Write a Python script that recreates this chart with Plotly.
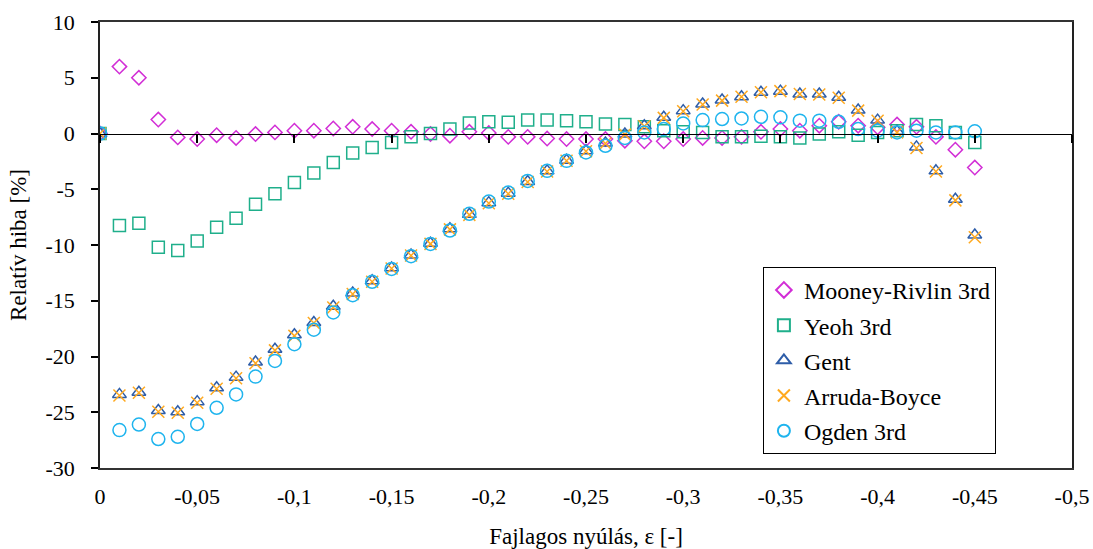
import plotly.graph_objects as go

strain = [0, -0.01, -0.02, -0.03, -0.04, -0.05, -0.06, -0.07, -0.08, -0.09,
          -0.10, -0.11, -0.12, -0.13, -0.14, -0.15, -0.16, -0.17, -0.18, -0.19,
          -0.20, -0.21, -0.22, -0.23, -0.24, -0.25, -0.26, -0.27, -0.28, -0.29,
          -0.30, -0.31, -0.32, -0.33, -0.34, -0.35, -0.36, -0.37, -0.38, -0.39,
          -0.40, -0.41, -0.42, -0.43, -0.44, -0.45]

mooney_rivlin = [0, 6.0, 5.0, 1.25, -0.35, -0.5, -0.15, -0.4, -0.05, 0.1,
                 0.25, 0.25, 0.45, 0.6, 0.4, 0.25, 0.15, -0.05, -0.2, 0.15,
                 0.05, -0.3, -0.3, -0.45, -0.5, -0.5, -0.5, -0.65, -0.7, -0.7,
                 -0.5, -0.4, -0.4, -0.3, 0.15, 0.4, 0.25, 0.7, 1.05, 0.7,
                 0.55, 0.8, 0.6, -0.3, -1.45, -3.05]

yeoh = [0, -8.25, -8.05, -10.2, -10.5, -9.65, -8.4, -7.6, -6.35, -5.4,
        -4.4, -3.55, -2.6, -1.75, -1.25, -0.8, -0.3, 0.0, 0.4, 0.95,
        1.05, 1.0, 1.2, 1.2, 1.15, 1.05, 0.85, 0.8, 0.6, 0.25,
        0.15, 0.1, -0.3, -0.3, -0.25, -0.3, -0.4, -0.05, 0.15, -0.15,
        0.1, 0.25, 0.8, 0.7, 0.1, -0.8]

gent = [0, -23.4, -23.2, -24.85, -24.95, -24.05, -22.8, -21.85, -20.5, -19.35,
        -18.05, -16.95, -15.5, -14.3, -13.2, -12.05, -10.9, -9.85, -8.55, -7.25,
        -6.2, -5.35, -4.3, -3.35, -2.4, -1.55, -0.85, -0.05, 0.7, 1.45,
        2.05, 2.65, 3.0, 3.3, 3.7, 3.8, 3.55, 3.55, 3.25, 2.1,
        1.2, 0.2, -1.2, -3.35, -5.9, -9.1]

arruda_boyce = [0, -23.5, -23.25, -24.95, -25.05, -24.15, -22.9, -21.95, -20.6, -19.45,
                -18.15, -17.0, -15.6, -14.4, -13.3, -12.1, -10.95, -9.9, -8.6, -7.3,
                -6.25, -5.4, -4.35, -3.4, -2.45, -1.6, -0.9, -0.1, 0.65, 1.4,
                2.0, 2.6, 2.95, 3.3, 3.7, 3.8, 3.55, 3.5, 3.2, 2.05,
                1.15, 0.1, -1.3, -3.4, -6.0, -9.3]

ogden = [0, -26.6, -26.1, -27.4, -27.2, -26.05, -24.6, -23.4, -21.8, -20.4,
         -18.9, -17.6, -16.05, -14.5, -13.3, -12.15, -11.0, -9.9, -8.7, -7.2,
         -6.1, -5.3, -4.25, -3.35, -2.45, -1.7, -1.1, -0.4, 0.1, 0.4,
         0.9, 1.2, 1.3, 1.35, 1.5, 1.45, 1.15, 1.15, 1.05, 0.4,
         0.25, 0.1, 0.25, 0.1, 0.1, 0.2]

x_tickvals = [0, -0.05, -0.1, -0.15, -0.2, -0.25, -0.3, -0.35, -0.4, -0.45, -0.5]
x_ticktext = ["0", "-0,05", "-0,1", "-0,15", "-0,2", "-0,25", "-0,3", "-0,35", "-0,4", "-0,45", "-0,5"]
y_tickvals = [10, 5, 0, -5, -10, -15, -20, -25, -30]
y_ticktext = ["10", "5", "0", "-5", "-10", "-15", "-20", "-25", "-30"]

series = [
    ("Mooney-Rivlin 3rd", mooney_rivlin, "diamond-open", "#D22ED6", 11),
    ("Yeoh 3rd", yeoh, "square-open", "#1FAF8B", 12),
    ("Gent", gent, "triangle-up-open", "#2E5DA8", 12),
    ("Arruda-Boyce", arruda_boyce, "x-thin-open", "#FFA91F", 12),
    ("Ogden 3rd", ogden, "circle-open", "#1EB4EE", 13),
]

FONT = "Liberation Serif, Times New Roman, serif"
fig = go.Figure()
for name, vals, sym, col, size in series:
    fig.add_trace(go.Scatter(
        x=strain, y=vals, mode="markers", name=name, legendgroup=name,
        marker=dict(symbol=sym, size=size, color=col, line=dict(width=1.5, color=col)),
    ))

# helper axis drawn along y = 0 (ticks cross there, as in the original)
fig.add_trace(go.Scatter(x=[], y=[], xaxis="x2", showlegend=False, hoverinfo="skip"))

fig.update_layout(
    width=1093, height=549,
    margin=dict(l=100, r=21, t=22, b=81),
    paper_bgcolor="white", plot_bgcolor="white",
    font=dict(family=FONT, size=22, color="black"),
    showlegend=True,
    legend=dict(
        x=0.682, y=0.451, xanchor="left", yanchor="top",
        bgcolor="white", bordercolor="black", borderwidth=1,
        font=dict(family=FONT, size=24, color="black"),
        tracegroupgap=1, itemsizing="constant",
        entrywidth=262, entrywidthmode="pixels",
    ),
    xaxis=dict(
        range=[0, -0.5], tickvals=x_tickvals, ticktext=x_ticktext,
        showgrid=False, zeroline=False, showline=True, mirror=True,
        linecolor="#333333", linewidth=1.5, automargin=False,
        ticks="outside", ticklen=8, tickcolor="rgba(0,0,0,0)",
        ticklabeloverflow="allow",
        tickfont=dict(family=FONT, size=22, color="black"),
        title=dict(text="Fajlagos nyúlás, ε [-]", standoff=20,
                   font=dict(family=FONT, size=23, color="black")),
    ),
    xaxis2=dict(
        range=[0, -0.5], tickvals=x_tickvals, overlaying="x", anchor="free",
        position=0.75, side="bottom", showgrid=False, zeroline=False,
        showline=True, linecolor="black", linewidth=1,
        ticks="outside", ticklen=8, tickwidth=1.5, tickcolor="black",
        showticklabels=False,
    ),
    yaxis=dict(
        range=[-30, 10], tickvals=y_tickvals, ticktext=y_ticktext,
        showgrid=False, zeroline=False, showline=True, mirror=True,
        linecolor="#222222", linewidth=1.5, automargin=False,
        ticks="outside", ticklen=7, tickwidth=1.5, tickcolor="black",
        ticklabelstandoff=12,
        tickfont=dict(family=FONT, size=22, color="black"),
        title=dict(text="Relatív hiba [%]", standoff=12,
                   font=dict(family=FONT, size=23, color="black")),
    ),
)

fig.write_html("out.html")
